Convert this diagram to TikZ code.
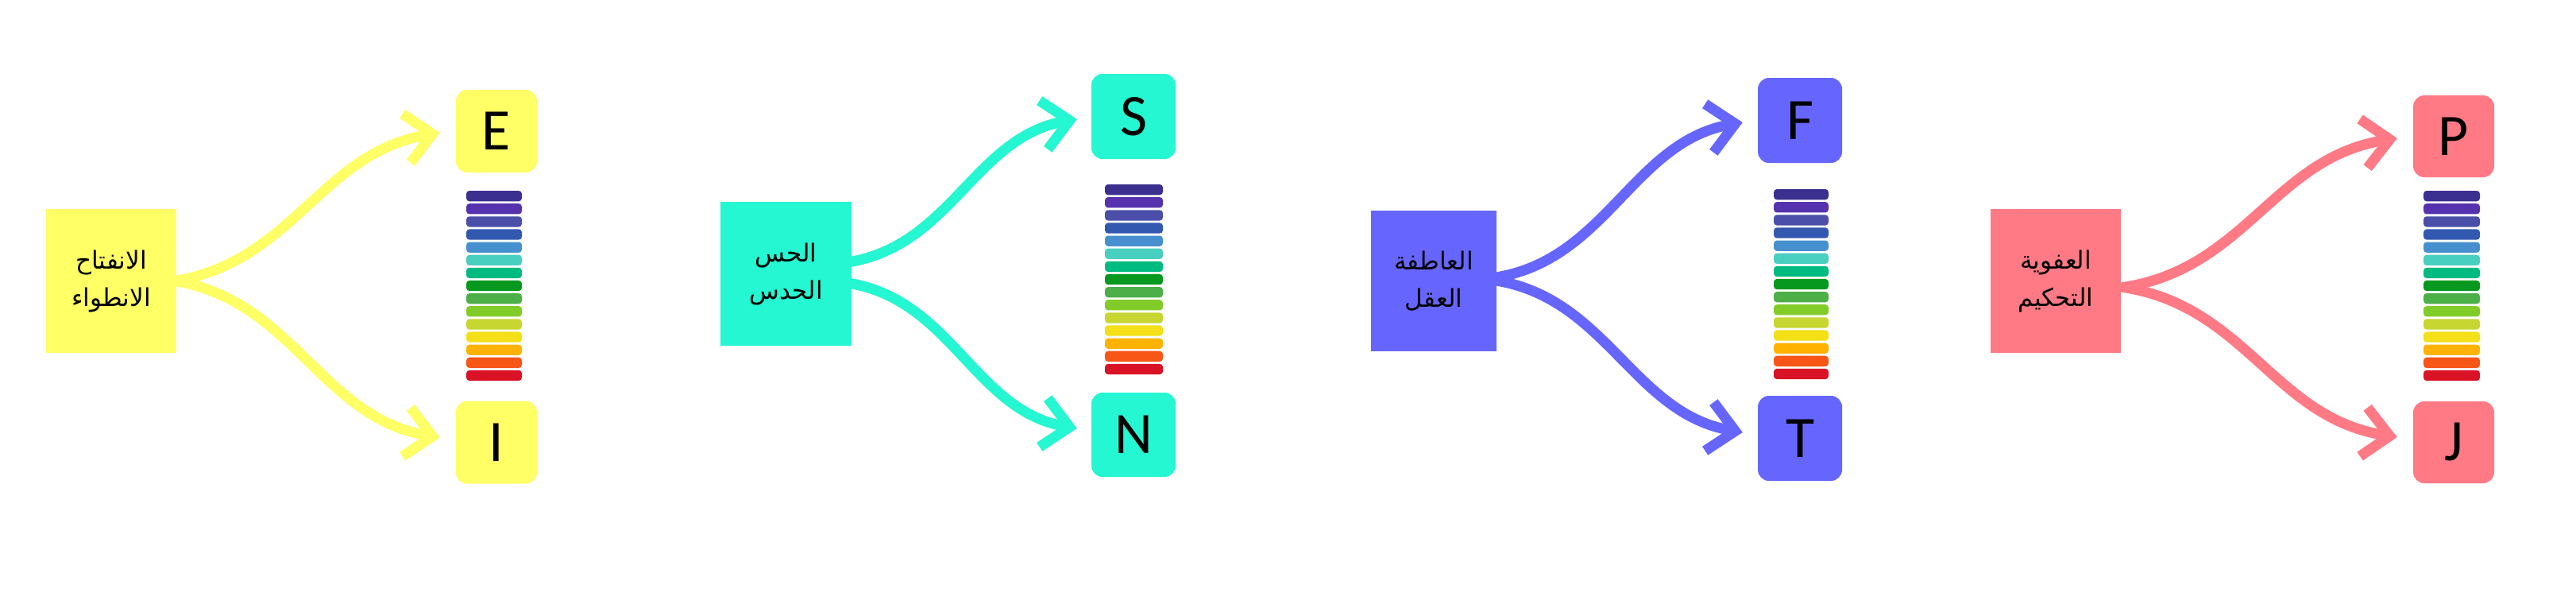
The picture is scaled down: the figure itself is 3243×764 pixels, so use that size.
\documentclass[tikz,border=0pt]{standalone}
\usepackage{fontspec}
\usetikzlibrary{arrows.meta}
\TeXXeTstate=1
\newfontfamily\arabicfont[Script=Arabic]{DejaVu Sans}
\newfontfamily\letterfont{Carlito}
\definecolor{cyel}{HTML}{FFFF66}
\definecolor{cteal}{HTML}{24F7D1}
\definecolor{cblue}{HTML}{6666FF}
\definecolor{cpink}{HTML}{FF7A85}
\definecolor{sa}{HTML}{3B2F8F}
\definecolor{sb}{HTML}{5632AE}
\definecolor{sc}{HTML}{4B4FAA}
\definecolor{sd}{HTML}{3258B0}
\definecolor{se}{HTML}{4790CF}
\definecolor{sf}{HTML}{48CFC0}
\definecolor{sg}{HTML}{00BB80}
\definecolor{sh}{HTML}{06981F}
\definecolor{si}{HTML}{4CAF48}
\definecolor{sj}{HTML}{82CC2A}
\definecolor{sk}{HTML}{C8D631}
\definecolor{sl}{HTML}{F3E016}
\definecolor{sm}{HTML}{FFB300}
\definecolor{sn}{HTML}{F75617}
\definecolor{so}{HTML}{DA1225}
\newcommand\spectrumbar[3]{%
  \foreach \c [count=\i from 0] in {sa,sb,sc,sd,se,sf,sg,sh,si,sj,sk,sl,sm,sn,so}{%
    \fill[\c, rounded corners=4pt] (#1,#2+\i*16.13) rectangle ++(#3,13.3);}%
}
\tikzset{
  bigbox/.style={rectangle, minimum width=164pt, minimum height=181pt, inner sep=0pt,
    align=center, text=black, font=\arabicfont\fontsize{31}{47}\selectfont},
  letterbox/.style={rectangle, rounded corners=14pt, minimum width=102pt, minimum height=104pt,
    inner sep=0pt, text=black, font=\letterfont\fontsize{74}{74}\selectfont},
  arr/.style={line width=13pt, line cap=round, -{Straight Barb[length=33pt,width=62pt]}},
}
\begin{document}
\begin{tikzpicture}[x=1pt,y=-1pt]
\fill[white] (0,0) rectangle (3243,764);
\useasboundingbox (0,0) rectangle (3243,764);

% Panel 1
\node[bigbox, fill=cyel] (A1) at (140,353.5) {\beginR الانفتاح\endR\\\beginR الانطواء\endR};
\node[letterbox, fill=cyel] (E) at (625,165) {E};
\node[letterbox, fill=cyel] (I) at (625,556.5) {I};
\spectrumbar{587}{240}{70}
\draw[arr, cyel] ([xshift=-2pt]A1.east) .. controls +(150,-25) and +(-150,25) .. ([shift={(-20,2)}]E.west);
\draw[arr, cyel] ([xshift=-2pt]A1.east) .. controls +(150,25) and +(-150,-25) .. ([shift={(-20,-6)}]I.west);

% Panel 2
\node[bigbox, fill=cteal, minimum width=165pt] (A2) at (989.5,344.5) {\beginR الحس\endR\\\beginR الحدس\endR};
\node[letterbox, fill=cteal, minimum width=106pt, minimum height=107pt] (S) at (1427,146.5) {S};
\node[letterbox, fill=cteal, minimum width=106pt, minimum height=106pt] (N) at (1427,547) {N};
\spectrumbar{1391}{232}{73}
\draw[arr, cteal] ([shift={(-2,-15)}]A2.east) .. controls +(128,-22) and +(-128,22) .. ([shift={(-18,3.5)}]S.west);
\draw[arr, cteal] ([shift={(-2,12)}]A2.east) .. controls +(128,22) and +(-128,-22) .. ([shift={(-18,-8)}]N.west);

% Panel 3
\node[bigbox, fill=cblue, minimum width=158pt, minimum height=177pt] (A3) at (1805,353.5) {\beginR العاطفة\endR\\\beginR العقل\endR};
\node[letterbox, fill=cblue, minimum width=106pt, minimum height=107pt] (F) at (2266,151.5) {F};
\node[letterbox, fill=cblue, minimum width=106pt, minimum height=107pt] (T) at (2266,551.5) {T};
\spectrumbar{2233}{238}{69}
\draw[arr, cblue] ([shift={(2,-5)}]A3.east) .. controls +(137,-24) and +(-137,24) .. ([shift={(-19,2.5)}]F.west);
\draw[arr, cblue] ([shift={(2,0)}]A3.east) .. controls +(137,24) and +(-137,-24) .. ([shift={(-19,-7.5)}]T.west);

% Panel 4
\node[bigbox, fill=cpink] (A4) at (2588,353.5) {\beginR العفوية\endR\\\beginR التحكيم\endR};
\node[letterbox, fill=cpink, minimum height=103pt] (P) at (3089,171.5) {P};
\node[letterbox, fill=cpink, minimum height=103pt] (J) at (3089,556.5) {J};
\spectrumbar{3051}{240}{71}
\draw[arr, cpink] ([shift={(3,8)}]A4.east) .. controls +(155,-24) and +(-155,24) .. ([shift={(-20,2.5)}]P.west);
\draw[arr, cpink] ([shift={(3,8)}]A4.east) .. controls +(155,24) and +(-155,-24) .. ([shift={(-20,-6.5)}]J.west);
\end{tikzpicture}
\end{document}
